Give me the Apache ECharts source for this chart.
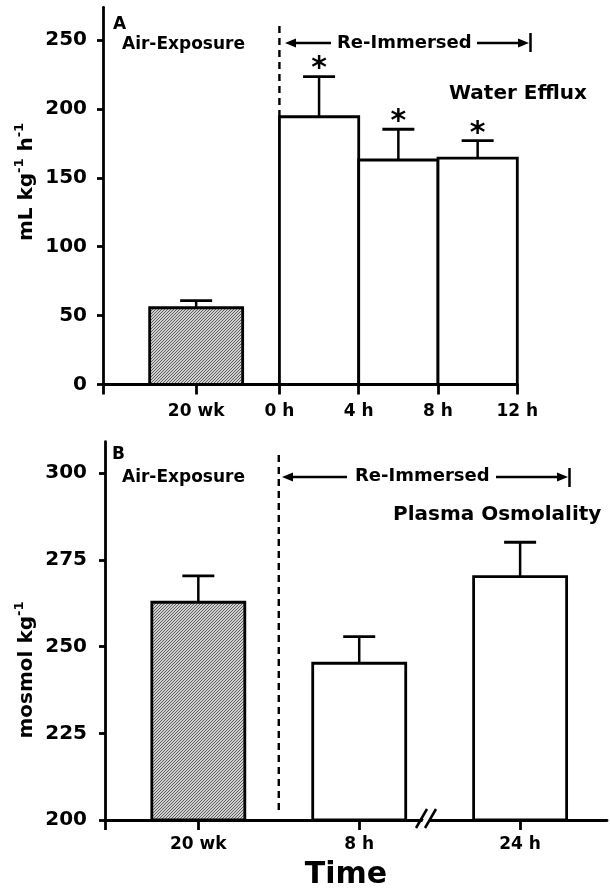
<!DOCTYPE html>
<html>
<head>
<meta charset="utf-8">
<script src="https://cdn.jsdelivr.net/npm/echarts@6/dist/echarts.min.js"></script>
<style>html,body{margin:0;padding:0;background:#fff}#c{width:610px;height:894px}</style>
</head>
<body>
<div id="c"></div>
<script>
// ---------------- data ----------------
// Panel A : water efflux (mL kg-1 h-1)
const panelATickLabels = ['20 wk', '0 h', '4 h', '8 h', '12 h'];
const panelAHours = [0, 4, 8, 12];
const airAValue = [55.7];
const airAErr = [5.1];
const reAStart = [0, 4, 8];
const reAEnd = [4, 8, 12];
const reAValues = [194.3, 162.9, 164.2];
const reAErr = [29.1, 22.3, 12.7];
const reASig = ['*', '*', '*'];
const yTicksA = [0, 50, 100, 150, 200, 250];

// Panel B : plasma osmolality (mosmol kg-1)
const categoriesB = ['20 wk', '8 h', '24 h'];
const valuesB = [262.8, 245.2, 270.2];
const errB = [7.6, 7.7, 9.9];
const groupB = ['air', 're', 're'];
const yTicksB = [200, 225, 250, 275, 300];

// ---------------- layout / style ----------------
const FF = 'DejaVu Sans';
const LW = 2.8;
const A_XMIN = -8.9, A_XMAX = 12, A_AIR_POS = -4.2, A_YMAX = 273.7;
const B_XMIN = -0.58, B_XMAX = 2.54, B_YMIN = 200, B_YMAX = 309.1;
const BAR_W = 93, CAP_W = 32;

function hatchCanvas() {
  const n = 6;
  const c = document.createElement('canvas');
  c.width = n; c.height = n;
  const ctx = c.getContext('2d');
  const img = ctx.createImageData(n, n);
  for (let y = 0; y < n; y++) for (let x = 0; x < n; x++) {
    const d = ((x + y) % 3) === 2;
    const v = d ? 0x5e : 0xd0;
    const k = (y * n + x) * 4;
    img.data[k] = v; img.data[k + 1] = v; img.data[k + 2] = v; img.data[k + 3] = 255;
  }
  ctx.putImageData(img, 0, 0);
  return c;
}
const HATCH = { image: hatchCanvas(), repeat: 'repeat' };

function errorBar(topPt, capPt) {
  return [
    { type: 'line', shape: { x1: topPt[0], y1: topPt[1], x2: capPt[0], y2: capPt[1] }, style: { stroke: '#000', lineWidth: 2.5 } },
    { type: 'line', shape: { x1: capPt[0] - CAP_W / 2, y1: capPt[1], x2: capPt[0] + CAP_W / 2, y2: capPt[1] }, style: { stroke: '#000', lineWidth: 2.8 } }
  ];
}

function renderAirA(params, api) {
  const x = api.value(0), v = api.value(1), e = api.value(2);
  const base = api.coord([x, 0]);
  const top = api.coord([x, v]);
  const cap = api.coord([x, v + e]);
  return { type: 'group', children: errorBar(top, cap).concat([
    { type: 'rect', shape: { x: base[0] - BAR_W / 2, y: top[1], width: BAR_W, height: base[1] - top[1] },
      style: { fill: HATCH, stroke: '#000', lineWidth: LW } }
  ]) };
}

function renderReA(params, api) {
  const i = params.dataIndex;
  const x0 = api.value(0), x1 = api.value(1), v = api.value(2), e = api.value(3);
  const xc = (x0 + x1) / 2;
  const p0 = api.coord([x0, 0]);
  const p1 = api.coord([x1, v]);
  const top = api.coord([xc, v]);
  const cap = api.coord([xc, v + e]);
  const ch = errorBar(top, cap).concat([
    { type: 'rect', shape: { x: p0[0], y: p1[1], width: p1[0] - p0[0], height: p0[1] - p1[1] },
      style: { fill: '#fff', stroke: '#000', lineWidth: LW } },
    { type: 'text', x: cap[0], y: cap[1] - 7,
      style: { text: reASig[i], font: 'bold 30px "' + FF + '"', fill: '#000', align: 'center', verticalAlign: 'middle' } }
  ]);
  return { type: 'group', children: ch };
}

function renderB(params, api) {
  const i = params.dataIndex;
  const x = api.value(0), v = api.value(1), e = api.value(2);
  const base = api.coord([x, B_YMIN]);
  const top = api.coord([x, v]);
  const cap = api.coord([x, v + e]);
  return { type: 'group', children: errorBar(top, cap).concat([
    { type: 'rect', shape: { x: base[0] - BAR_W / 2, y: top[1], width: BAR_W, height: base[1] - top[1] },
      style: { fill: groupB[i] === 'air' ? HATCH : '#fff', stroke: '#000', lineWidth: LW } }
  ]) };
}

const labelFont = { fontFamily: FF, fontWeight: 'bold', color: '#000' };
const axisLine = { show: true, onZero: false, lineStyle: { color: '#000', width: LW } };
const aLabelPos = [A_AIR_POS].concat(panelAHours);

const chart = echarts.init(document.getElementById('c'), null, { renderer: 'canvas' });
chart.setOption({
  animation: false,
  backgroundColor: '#fff',
  grid: [
    { left: 103, top: 7.3, width: 414.3, height: 377.2 },
    { left: 105, top: 441.7, width: 502, height: 378.3 }
  ],
  xAxis: [
    { gridIndex: 0, type: 'value', min: A_XMIN, max: A_XMAX, axisLine: axisLine,
      axisTick: { show: true, customValues: [A_XMIN].concat(aLabelPos), length: 10, lineStyle: { color: '#000', width: LW } },
      axisLabel: Object.assign({ customValues: aLabelPos, fontSize: 17, margin: 19,
        formatter: function (v) { const k = aLabelPos.findIndex(p => Math.abs(p - v) < 1e-6); return k >= 0 ? panelATickLabels[k] : ''; } }, labelFont),
      splitLine: { show: false } },
    { gridIndex: 1, type: 'value', min: B_XMIN, max: B_XMAX, axisLine: axisLine,
      axisTick: { show: true, customValues: [B_XMIN, 0, 1, 2], length: 10, lineStyle: { color: '#000', width: LW } },
      axisLabel: Object.assign({ customValues: [0, 1, 2], fontSize: 17, margin: 16,
        formatter: function (v) { return categoriesB[Math.round(v)] || ''; } }, labelFont),
      splitLine: { show: false } }
  ],
  yAxis: [
    { gridIndex: 0, type: 'value', min: 0, max: A_YMAX, axisLine: axisLine,
      axisTick: { show: true, customValues: yTicksA, length: 6, lineStyle: { color: '#000', width: LW } },
      axisLabel: Object.assign({ customValues: yTicksA, fontSize: 20, margin: 16 }, labelFont),
      splitLine: { show: false } },
    { gridIndex: 1, type: 'value', min: B_YMIN, max: B_YMAX, axisLine: axisLine,
      axisTick: { show: true, customValues: yTicksB, length: 6, lineStyle: { color: '#000', width: LW } },
      axisLabel: Object.assign({ customValues: yTicksB, fontSize: 20, margin: 18 }, labelFont),
      splitLine: { show: false } }
  ],
  series: [
    { type: 'custom', name: 'Air-Exposure A', xAxisIndex: 0, yAxisIndex: 0, renderItem: renderAirA,
      encode: { x: 0, y: [1, 2] }, data: airAValue.map((v, i) => [A_AIR_POS, v, airAErr[i]]), z: 3 },
    { type: 'custom', name: 'Re-Immersed A', xAxisIndex: 0, yAxisIndex: 0, renderItem: renderReA,
      encode: { x: [0, 1], y: [2, 3] }, data: reAValues.map((v, i) => [reAStart[i], reAEnd[i], v, reAErr[i]]), z: 3 },
    { type: 'custom', name: 'Plasma Osmolality', xAxisIndex: 1, yAxisIndex: 1, renderItem: renderB,
      encode: { x: 0, y: [1, 2] }, data: valuesB.map((v, i) => [i, v, errB[i]]), z: 3 }
  ]
});

// ---------------- annotations ----------------
const pA0 = chart.convertToPixel({ gridIndex: 0 }, [0, reAValues[0]]);
const pB0 = chart.convertToPixel({ gridIndex: 1 }, [0.5, B_YMIN]);
const f = (s) => 'bold ' + s + 'px "' + FF + '"';
function txt(text, x, y, size, align) {
  return { type: 'text', x: x, y: y, z: 20,
    style: { text: text, font: f(size), fill: '#000', align: align || 'left', verticalAlign: 'middle',
      textAlign: align || 'left', textVerticalAlign: 'middle' } };
}
function ln(x1, y1, x2, y2, dash) {
  return { type: 'line', z: 1, shape: { x1: x1, y1: y1, x2: x2, y2: y2 },
    style: { stroke: '#000', lineWidth: dash ? 2.4 : 2.5, lineDash: dash || null } };
}
function head(tipX, y, dir) {
  return { type: 'polygon', z: 20, shape: { points: [[tipX, y], [tipX - dir * 11, y - 4.5], [tipX - dir * 11, y + 4.5]] }, style: { fill: '#000' } };
}
function ylab(main1, sup1, main2, sup2, x, y) {
  let t = '{m|' + main1 + '}{s|' + sup1 + '}';
  if (main2) t += '{m|' + main2 + '}{s|' + sup2 + '}';
  return { type: 'text', x: x, y: y, rotation: Math.PI / 2, z: 20,
    style: { text: t, align: 'center', verticalAlign: 'middle', textAlign: 'center', textVerticalAlign: 'middle',
      rich: { m: { font: f(20), fill: '#000', lineHeight: 24, verticalAlign: 'bottom' },
              s: { font: f(13), fill: '#000', lineHeight: 14, verticalAlign: 'top' } } } };
}

const g = [];
// Panel A
g.push(txt('A', 113, 25, 17));
g.push(txt('Air-Exposure', 122, 44.5, 17));
g.push(ln(pA0[0], 26, pA0[0], pA0[1], [7, 5]));
g.push(head(285, 43, -1), ln(292, 43, 331, 43));
g.push(txt('Re-Immersed', 337, 43, 18));
g.push(ln(477, 43, 520, 43), head(529, 43, 1), ln(530.5, 33, 530.5, 52));
g.push(txt('Water Efflux', 449, 93.5, 20));
g.push(ylab('mL kg', '-1', ' h', '-1', 25, 182));
// Panel B
g.push(txt('B', 112, 455, 17));
g.push(txt('Air-Exposure', 122, 477.5, 17));
g.push(ln(pB0[0], 455, pB0[0], 812, [7, 5]));
g.push(head(282, 477, -1), ln(289, 477, 347, 477));
g.push(txt('Re-Immersed', 355, 476.5, 18));
g.push(ln(496, 477, 560, 477), head(568, 477, 1), ln(569.5, 468, 569.5, 487));
g.push(txt('Plasma Osmolality', 393, 514.5, 20));
g.push(ylab('mosmol kg', '-1', '', '', 25, 670));
g.push(txt('Time', 346, 875, 30, 'center'));
// axis break marks
g.push({ type: 'polygon', z: 20, shape: { points: [[419, 828], [429, 809], [436, 809], [426, 828]] }, style: { fill: '#fff' } });
g.push({ type: 'line', z: 21, shape: { x1: 416, y1: 828, x2: 427, y2: 809 }, style: { stroke: '#000', lineWidth: 2.5 } });
g.push({ type: 'line', z: 21, shape: { x1: 425, y1: 828, x2: 436, y2: 809 }, style: { stroke: '#000', lineWidth: 2.5 } });

chart.setOption({ graphic: { elements: g } });
</script>
</body>
</html>
